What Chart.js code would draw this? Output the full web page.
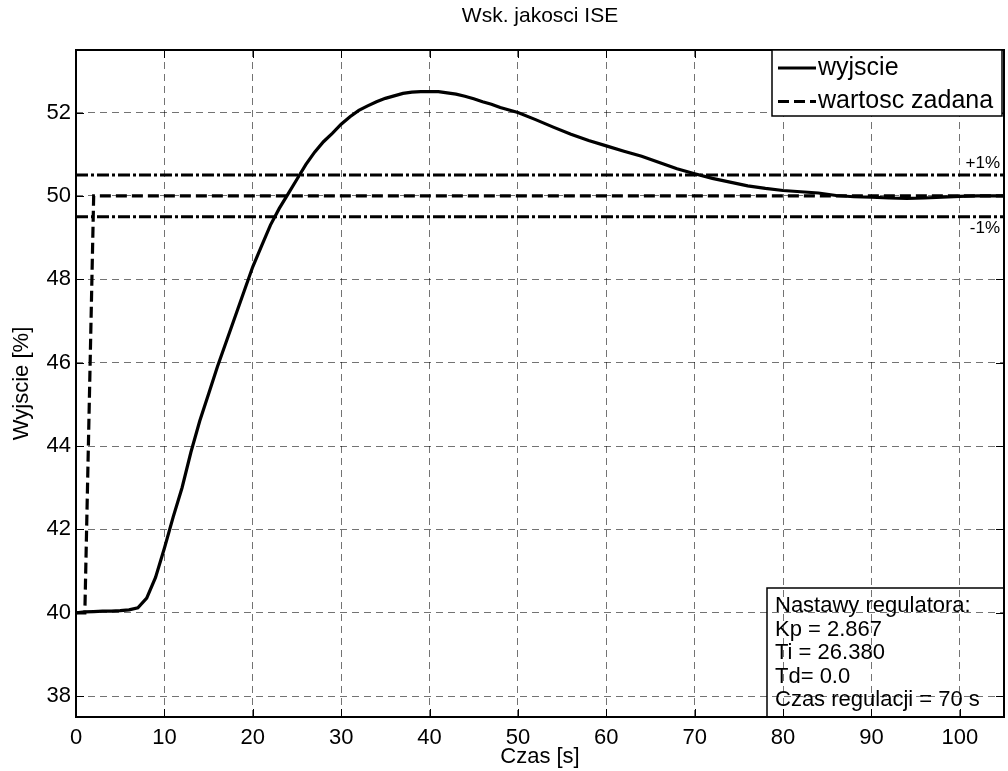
<!DOCTYPE html>
<html>
<head>
<meta charset="utf-8">
<script src="https://cdn.jsdelivr.net/npm/chart.js@4/dist/chart.umd.min.js"></script>
<style>
  body { margin: 0; background: #fff; }
  #wrap { width: 1008px; height: 771px; }
</style>
</head>
<body>
<div id="wrap"><canvas id="chart" width="1008" height="771"></canvas></div>
<script>
// --- dane ---
const tOut = [0, 1, 2, 3, 4, 5, 6, 7, 8, 9, 10, 11, 12, 13, 14, 15, 16, 17, 18, 19, 20,
  21, 22, 23, 24, 25, 26, 27, 28, 29, 30, 31, 32, 33, 34, 35, 36, 37, 38, 39, 40,
  41, 42, 43, 44, 45, 46, 47, 48, 49, 50, 52, 54, 56, 58, 60, 62, 64, 66, 68, 70,
  72, 74, 76, 78, 80, 82, 84, 86, 88, 90, 92, 94, 96, 98, 100, 102, 105];
const yOut = [40.0, 40.02, 40.03, 40.04, 40.04, 40.05, 40.07, 40.12, 40.35, 40.85, 41.55,
  42.3, 43.0, 43.85, 44.6, 45.25, 45.9, 46.5, 47.1, 47.7, 48.3,
  48.8, 49.3, 49.7, 50.05, 50.4, 50.75, 51.05, 51.3, 51.5, 51.72,
  51.9, 52.05, 52.16, 52.26, 52.34, 52.4, 52.46, 52.49, 52.5, 52.5,
  52.5, 52.47, 52.44, 52.39, 52.33, 52.26, 52.2, 52.12, 52.06, 52.0,
  51.83, 51.65, 51.48, 51.33, 51.2, 51.07, 50.95, 50.8, 50.65, 50.53,
  50.42, 50.33, 50.24, 50.18, 50.13, 50.1, 50.07, 50.01, 49.98, 49.97,
  49.95, 49.94, 49.95, 49.97, 49.99, 50.0, 50.0];

const tSet = [0, 1, 2, 105];
const ySet = [40, 40, 50, 50];

const tBand = [0, 105];
const bandHi = [50.5, 50.5];
const bandLo = [49.5, 49.5];

const xTicks = [0, 10, 20, 30, 40, 50, 60, 70, 80, 90, 100];
const yTicks = [38, 40, 42, 44, 46, 48, 50, 52];

const chartTitle = 'Wsk. jakosci ISE';
const seriesLabels = ['wyjscie', 'wartosc zadana'];
const bandLabels = ['+1%', '-1%'];
const boxLines = ['Nastawy regulatora:', 'Kp = 2.867', 'Ti = 26.380', 'Td= 0.0', 'Czas regulacji = 70 s'];

const FONT = "'Liberation Sans', Arial, Helvetica, sans-serif";
const toXY = (xs, ys) => xs.map((x, i) => ({ x: x, y: ys[i] }));

// --- rysowanie ramki, tytulu, legendy i opisow w stylu MATLAB ---
const matlabDecor = {
    id: 'matlabDecor',
    afterDatasetsDraw(chart) {
        const { ctx, chartArea: a, scales } = chart;
        const xs = scales.x, ys = scales.y;
        ctx.save();

        // tytul nad obszarem wykresu
        ctx.fillStyle = '#000';
        ctx.font = '21px ' + FONT;
        ctx.textAlign = 'center';
        ctx.textBaseline = 'middle';
        ctx.fillText(chartTitle, (a.left + a.right) / 2, 16);

        // ramka osi + znaczniki do wewnatrz
        ctx.strokeStyle = '#000';
        ctx.lineWidth = 2;
        ctx.setLineDash([]);
        ctx.strokeRect(a.left, a.top, a.width, a.height);
        ctx.lineWidth = 1;
        ctx.beginPath();
        xTicks.forEach(v => {
            const px = Math.round(xs.getPixelForValue(v)) + 0.5;
            ctx.moveTo(px, a.bottom); ctx.lineTo(px, a.bottom - 8);
            ctx.moveTo(px, a.top); ctx.lineTo(px, a.top + 8);
        });
        yTicks.forEach(v => {
            const py = Math.round(ys.getPixelForValue(v)) + 0.5;
            ctx.moveTo(a.left, py); ctx.lineTo(a.left + 8, py);
            ctx.moveTo(a.right, py); ctx.lineTo(a.right - 8, py);
        });
        ctx.stroke();

        // opisy +1% / -1%
        ctx.font = '17px ' + FONT;
        ctx.textAlign = 'right';
        ctx.fillText(bandLabels[0], a.right - 4, ys.getPixelForValue(bandHi[0]) - 12);
        ctx.fillText(bandLabels[1], a.right - 4, ys.getPixelForValue(bandLo[0]) + 12);

        // ramka z nastawami (przezroczysta)
        const bw = 237, bh = 129;
        const bx = a.right - bw, by = a.bottom - bh;
        ctx.lineWidth = 1.5;
        ctx.strokeRect(bx, by, bw, bh);
        ctx.font = '22px ' + FONT;
        ctx.textAlign = 'left';
        boxLines.forEach((s, i) => ctx.fillText(s, bx + 8, by + 18 + i * 23.6));

        // legenda
        const lx = a.right - 232, ly = a.top, lw = 230, lh = 66;
        ctx.fillStyle = '#fff';
        ctx.fillRect(lx, ly, lw, lh);
        ctx.strokeStyle = '#000';
        ctx.lineWidth = 1.5;
        ctx.strokeRect(lx, ly, lw, lh);
        ctx.font = '25px ' + FONT;
        ctx.fillStyle = '#000';
        chart.data.datasets.slice(0, 2).forEach((ds, i) => {
            const yy = ly + 18 + i * 33.5;
            ctx.lineWidth = 3;
            ctx.setLineDash(ds.borderDash || []);
            ctx.beginPath();
            ctx.moveTo(lx + 6, yy); ctx.lineTo(lx + 44, yy);
            ctx.stroke();
            ctx.setLineDash([]);
            ctx.fillText(ds.label, lx + 46, yy);
        });
        ctx.restore();
    }
};

new Chart(document.getElementById('chart'), {
    type: 'line',
    data: {
        datasets: [
            { label: seriesLabels[0], data: toXY(tOut, yOut), borderColor: '#000', borderWidth: 3.2 },
            { label: seriesLabels[1], data: toXY(tSet, ySet), borderColor: '#000', borderWidth: 3.2, borderDash: [11, 5] },
            { label: bandLabels[0], data: toXY(tBand, bandHi), borderColor: '#000', borderWidth: 3, borderDash: [12, 3, 3, 3] },
            { label: bandLabels[1], data: toXY(tBand, bandLo), borderColor: '#000', borderWidth: 3, borderDash: [12, 3, 3, 3] }
        ]
    },
    options: {
        responsive: false,
        animation: false,
        devicePixelRatio: 1,
        layout: { padding: { left: 0, right: 4, top: 50, bottom: 0 } },
        elements: { point: { radius: 0 }, line: { tension: 0, fill: false, borderCapStyle: 'butt' } },
        plugins: {
            legend: { display: false },
            tooltip: { enabled: false },
            title: { display: false }
        },
        scales: {
            x: {
                type: 'linear',
                min: 0,
                max: 105,
                afterBuildTicks: s => { s.ticks = xTicks.map(v => ({ value: v })); },
                afterFit: s => { s.height = 54; },
                grid: { color: 'rgba(0,0,0,0.55)', lineWidth: 1, drawTicks: false },
                border: { display: false, dash: [7, 5] },
                ticks: { color: '#000', padding: 8, maxRotation: 0, font: { family: FONT, size: 22 } },
                title: { display: true, text: 'Czas [s]', color: '#000', font: { family: FONT, size: 22 }, padding: { top: 0, bottom: 1 } }
            },
            y: {
                type: 'linear',
                min: 37.5,
                max: 53.5,
                afterBuildTicks: s => { s.ticks = yTicks.map(v => ({ value: v })); },
                afterFit: s => { s.width = 76; },
                grid: { color: 'rgba(0,0,0,0.55)', lineWidth: 1, drawTicks: false },
                border: { display: false, dash: [7, 5] },
                ticks: { color: '#000', padding: 5, font: { family: FONT, size: 22 } },
                title: { display: true, text: 'Wyjscie [%]', color: '#000', font: { family: FONT, size: 22 }, padding: { top: 9, bottom: 0 } }
            }
        }
    },
    plugins: [matlabDecor]
});
</script>
</body>
</html>
